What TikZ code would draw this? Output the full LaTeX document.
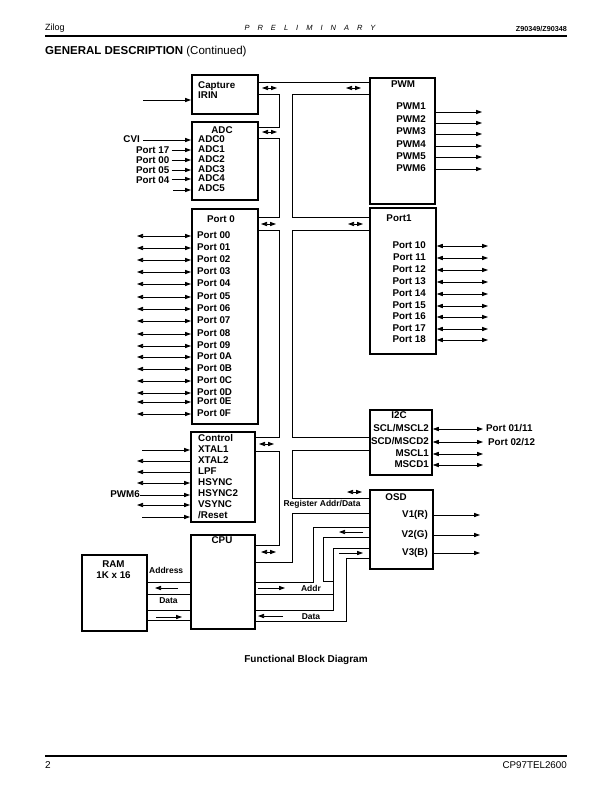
\documentclass[tikz,border=0pt]{standalone}
\usepackage{fontspec}
\setmainfont{Liberation Sans}
\usetikzlibrary{positioning, arrows.meta}
\newcommand\pinfont{\fontsize{9.8}{11}\selectfont\bfseries}
\newcommand\busfont{\fontsize{8.5}{10}\selectfont\bfseries}
\tikzset{
  blk/.style    = {draw, line width=1.8pt, anchor=north west, inner sep=0pt},
  pin/.style    = {inner sep=0pt, font=\pinfont},
  buslbl/.style = {inner sep=0pt, font=\busfont},
  bus/.style    = {line width=0.75pt},
  arrow/.style  = {-{Triangle[length=6pt,width=4.2pt]}, line width=0.75pt},
  barrow/.style = {{Triangle[length=6pt,width=4.2pt]}-{Triangle[length=6pt,width=4.2pt]}, line width=0.75pt}
}

\begin{document}
\begin{tikzpicture}[x=1pt, y=-1pt]
  \useasboundingbox (0,0) rectangle (612,792);

  % page head and foot
  \node[anchor=mid west, inner sep=0pt, font=\fontsize{9}{10}\selectfont] (zilog) at (45,28) {Zilog};
  \node[inner sep=0pt, font=\fontsize{7.5}{9}\selectfont\itshape] (prelim) at (310,28)
    {P\hspace{8pt}R\hspace{8pt}E\hspace{8pt}L\hspace{8pt}I\hspace{8pt}M\hspace{8pt}I\hspace{8pt}N\hspace{8pt}A\hspace{8pt}R\hspace{8pt}Y};
  \node[anchor=mid east, inner sep=0pt, font=\fontsize{7.2}{8}\selectfont\bfseries] (partno) at (567,29) {Z90349/Z90348};
  \draw[line width=2pt] (45,36) -- (567,36);
  \node[anchor=mid west, inner sep=0pt, font=\fontsize{11.5}{13}\selectfont] (title) at (45,52)
    {\textbf{GENERAL DESCRIPTION} (Continued)};
  \node[inner sep=0pt, font=\fontsize{10}{12}\selectfont\bfseries] (caption) at (306,660) {Functional Block Diagram};
  \draw[line width=2pt] (45,756) -- (567,756);
  \node[anchor=mid west, inner sep=0pt, font=\fontsize{10}{12}\selectfont] (pageno) at (45,766) {2};
  \node[anchor=mid east, inner sep=0pt, font=\fontsize{9.8}{12}\selectfont] (docno) at (567,766) {CP97TEL2600};

  % blocks
  \node[blk, minimum width=66pt, minimum height=39pt]  (cap) at (191,74)  {};
  \node[blk, minimum width=66pt, minimum height=78pt]  (adc) at (191,121) {};
  \node[blk, minimum width=66pt, minimum height=215pt] (p0)  at (191,208) {};
  \node[blk, minimum width=64pt, minimum height=90pt]  (ctl) at (190,431) {};
  \node[blk, minimum width=64pt, minimum height=94pt]  (cpu) at (190,534) {};
  \node[blk, minimum width=65pt, minimum height=76pt]  (ram) at (81,554)  {};
  \node[blk, minimum width=65pt, minimum height=126pt] (pwm) at (369,77)  {};
  \node[blk, minimum width=66pt, minimum height=146pt] (p1)  at (369,207) {};
  \node[blk, minimum width=62pt, minimum height=65pt]  (i2c) at (369,409) {};
  \node[blk, minimum width=63pt, minimum height=79pt]  (osd) at (369,489) {};

  % titles
  \node[pin, anchor=mid west] (capt) at (198,86) {Capture};
  \node[pin, anchor=mid west] (irin) at (198,96) {IRIN};
  \node[pin] (adct) at (222,130) {ADC};
  \node[pin] (p0t)  at (221,219) {Port 0};
  \node[pin, anchor=mid west] (ctlt) at (198,439) {Control};
  \node[pin] (cput) at (222,540) {CPU};
  \node[pin] (ramt) at (113.5,564) {RAM};
  \node[pin] (ramk) at (113.5,575) {1K x 16};
  \node[pin] (pwmt) at (403,84)  {PWM};
  \node[pin] (p1t)  at (399,218) {Port1};
  \node[pin] (i2ct) at (399,415) {I2C};
  \node[pin] (osdt) at (396,497) {OSD};

  % free ends
  \coordinate (capin) at (143,100);
  \coordinate (lft)   at (137,0);
  \coordinate (pwmr)  at (482,0);
  \coordinate (p1r)   at (488,0);
  \coordinate (i2cr)  at (483,0);
  \coordinate (osdr)  at (480,0);

  \draw[arrow] (capin) -- (capin -| cap.west);

  % ADC inputs
  \foreach \n/\y in {0/140,1/150,2/160,3/170,4/179,5/189}
    \node[pin, anchor=mid west] (adc\n) at (198,\y) {ADC\n};
  \node[pin, anchor=mid east] (cvi)  at (140,140)   {CVI};
  \node[pin, anchor=mid east] (i17)  at (169.5,151) {Port 17};
  \node[pin, anchor=mid east] (i00)  at (169.5,161) {Port 00};
  \node[pin, anchor=mid east] (i05)  at (169.5,171) {Port 05};
  \node[pin, anchor=mid east] (i04)  at (169.5,181) {Port 04};
  \coordinate (adcx) at (173,190);
  \draw[arrow] ([xshift=3pt]cvi.east |- adc0.mid) -- (adc0.mid -| adc.west);
  \draw[arrow] ([xshift=2pt]i17.east |- adc1.mid) -- (adc1.mid -| adc.west);
  \draw[arrow] ([xshift=2pt]i00.east |- adc2.mid) -- (adc2.mid -| adc.west);
  \draw[arrow] ([xshift=2pt]i05.east |- adc3.mid) -- (adc3.mid -| adc.west);
  \draw[arrow] ([xshift=2pt]i04.east |- adc4.mid) -- (adc4.mid -| adc.west);
  \draw[arrow] (adcx) -- (adcx -| adc.west);

  % Port 0
  \foreach \n/\y in {00/236,01/248,02/260,03/272,04/284,05/297,06/309,07/321,
                     08/334,09/346,0A/357,0B/369,0C/381,0D/393,0E/402,0F/414}{
    \node[pin, anchor=mid west] (p0\n) at (197,\y) {Port \n};
    \draw[barrow] (p0\n.mid -| lft) -- (p0\n.mid -| p0.west);
  }

  % Control
  \node[pin, anchor=mid west] (xtal1)  at (198,450) {XTAL1};
  \node[pin, anchor=mid west] (xtal2)  at (198,461) {XTAL2};
  \node[pin, anchor=mid west] (lpf)    at (198,472) {LPF};
  \node[pin, anchor=mid west] (hsync)  at (198,483) {HSYNC};
  \node[pin, anchor=mid west] (hsync2) at (198,494) {HSYNC2};
  \node[pin, anchor=mid west] (vsync)  at (198,505) {VSYNC};
  \node[pin, anchor=mid west] (rst)    at (198,516) {/Reset};
  \node[pin, anchor=mid east] (pwm6in) at (140,495) {PWM6};
  \coordinate (ctlx) at (142,0);
  \draw[arrow]  (xtal1.mid -| ctlx) -- (xtal1.mid -| ctl.west);
  \draw[arrow]  (xtal2.mid -| ctl.west) -- (xtal2.mid -| lft);
  \draw[arrow]  (lpf.mid -| ctl.west) -- (lpf.mid -| lft);
  \draw[barrow] (hsync.mid -| lft) -- (hsync.mid -| ctl.west);
  \draw[arrow]  (pwm6in.mid east) -- (pwm6in.mid east -| ctl.west);
  \draw[barrow] (vsync.mid -| lft) -- (vsync.mid -| ctl.west);
  \draw[arrow]  ([yshift=-1pt]rst.mid -| ctlx) -- ([yshift=-1pt]rst.mid -| ctl.west);

  % PWM
  \foreach \n/\y/\a in {1/107/112,2/120/123,3/132/134,4/145/146,5/157/157,6/169/169}{
    \node[pin, anchor=mid east] (pwm\n) at (426,\y) {PWM\n};
    \draw[arrow] (pwm.east |- 0,\a) -- (pwmr |- 0,\a);
  }

  % Port1
  \foreach \n/\y in {10/246,11/258,12/270,13/282,14/294,15/306,16/317,17/329,18/340}{
    \node[pin, anchor=mid east] (p1\n) at (426,\y) {Port \n};
    \draw[barrow] (p1\n.mid -| p1.east) -- (p1\n.mid -| p1r);
  }

  % I2C
  \node[pin, anchor=mid east] (scl)  at (429,429) {SCL/MSCL2};
  \node[pin, anchor=mid east] (scd)  at (429,442) {SCD/MSCD2};
  \node[pin, anchor=mid east] (mscl) at (429,454) {MSCL1};
  \node[pin, anchor=mid east] (mscd) at (429,465) {MSCD1};
  \node[pin, anchor=mid west] (o0111) at (486,429) {Port 01/11};
  \node[pin, anchor=mid west] (o0212) at (488,443) {Port 02/12};
  \draw[barrow] (scl.mid -| i2c.east)  -- (scl.mid -| i2cr);
  \draw[barrow] (scd.mid -| i2c.east)  -- (scd.mid -| i2cr);
  \draw[barrow] (mscl.mid -| i2c.east) -- (mscl.mid -| i2cr);
  \draw[barrow] (mscd.mid -| i2c.east) -- (mscd.mid -| i2cr);

  % OSD
  \foreach \n/\t/\y in {r/V1(R)/515,g/V2(G)/535,b/V3(B)/553}{
    \node[pin, anchor=mid east] (v\n) at (428,\y) {\t};
    \draw[arrow] (v\n.mid -| osd.east) -- (v\n.mid -| osdr);
  }

  % internal bus
  \draw[bus] (cap.east |- 0,82) -- (pwm.west |- 0,82);
  \draw[bus] (cap.east |- 0,94)  -| (279,127) -- (adc.east |- 0,127);
  \draw[bus] (adc.east |- 0,138) -| (279,217) -- (p0.east |- 0,217);
  \draw[bus] (p0.east |- 0,230)  -| (279,437) -- (ctl.east |- 0,437);
  \draw[bus] (ctl.east |- 0,451) -| (279,545) -- (cpu.east |- 0,545);
  \draw[bus] (pwm.west |- 0,94)  -| (292,217) -- (p1.west |- 0,217);
  \draw[bus] (p1.west |- 0,230)  -| (292,437) -- (i2c.west |- 0,437);
  \draw[bus] (i2c.west |- 0,450) -| (292,498) -- (osd.west |- 0,498);
  \draw[bus] (osd.west |- 0,513) -| (292,562) -- (cpu.east |- 0,562);
  \foreach \x/\y in {262/88,262/132,261/224,259/444,261/552,346/88,348/224,347/492}
    \draw[barrow] (\x,\y) -- ++(15,0);
  \node[buslbl] (regad) at (322,504) {Register Addr/Data};

  % CPU to OSD
  \draw[bus] (cpu.east |- 0,582) -| (313,527) -- (osd.west |- 0,527);
  \draw[bus] (osd.west |- 0,537) -| (323,581) -- (333,581);
  \draw[bus] (cpu.east |- 0,594) -- (333,594);
  \draw[bus] (cpu.east |- 0,610) -| (333,548) -- (osd.west |- 0,548);
  \draw[bus] (cpu.east |- 0,621) -| (346,558) -- (osd.west |- 0,558);
  \draw[arrow] (363,532) -- (339,532);
  \draw[arrow] (339,553) -- (363,553);
  \draw[arrow] (258,588) -- (285,588);
  \draw[arrow] (283,616) -- (258,616);
  \node[buslbl] (addr) at (311,588) {Addr};
  \node[buslbl] (data) at (311,617) {Data};

  % RAM to CPU
  \foreach \y in {582,594,610,620}
    \draw[bus] (ram.east |- 0,\y) -- (cpu.west |- 0,\y);
  \draw[arrow] (178,588) -- (155,588);
  \draw[arrow] (156,617) -- (182,617);
  \node[buslbl, anchor=mid west] (address) at (149,571) {Address};
  \node[buslbl] (rdata) at (168.5,601) {Data};
\end{tikzpicture}
\end{document}
